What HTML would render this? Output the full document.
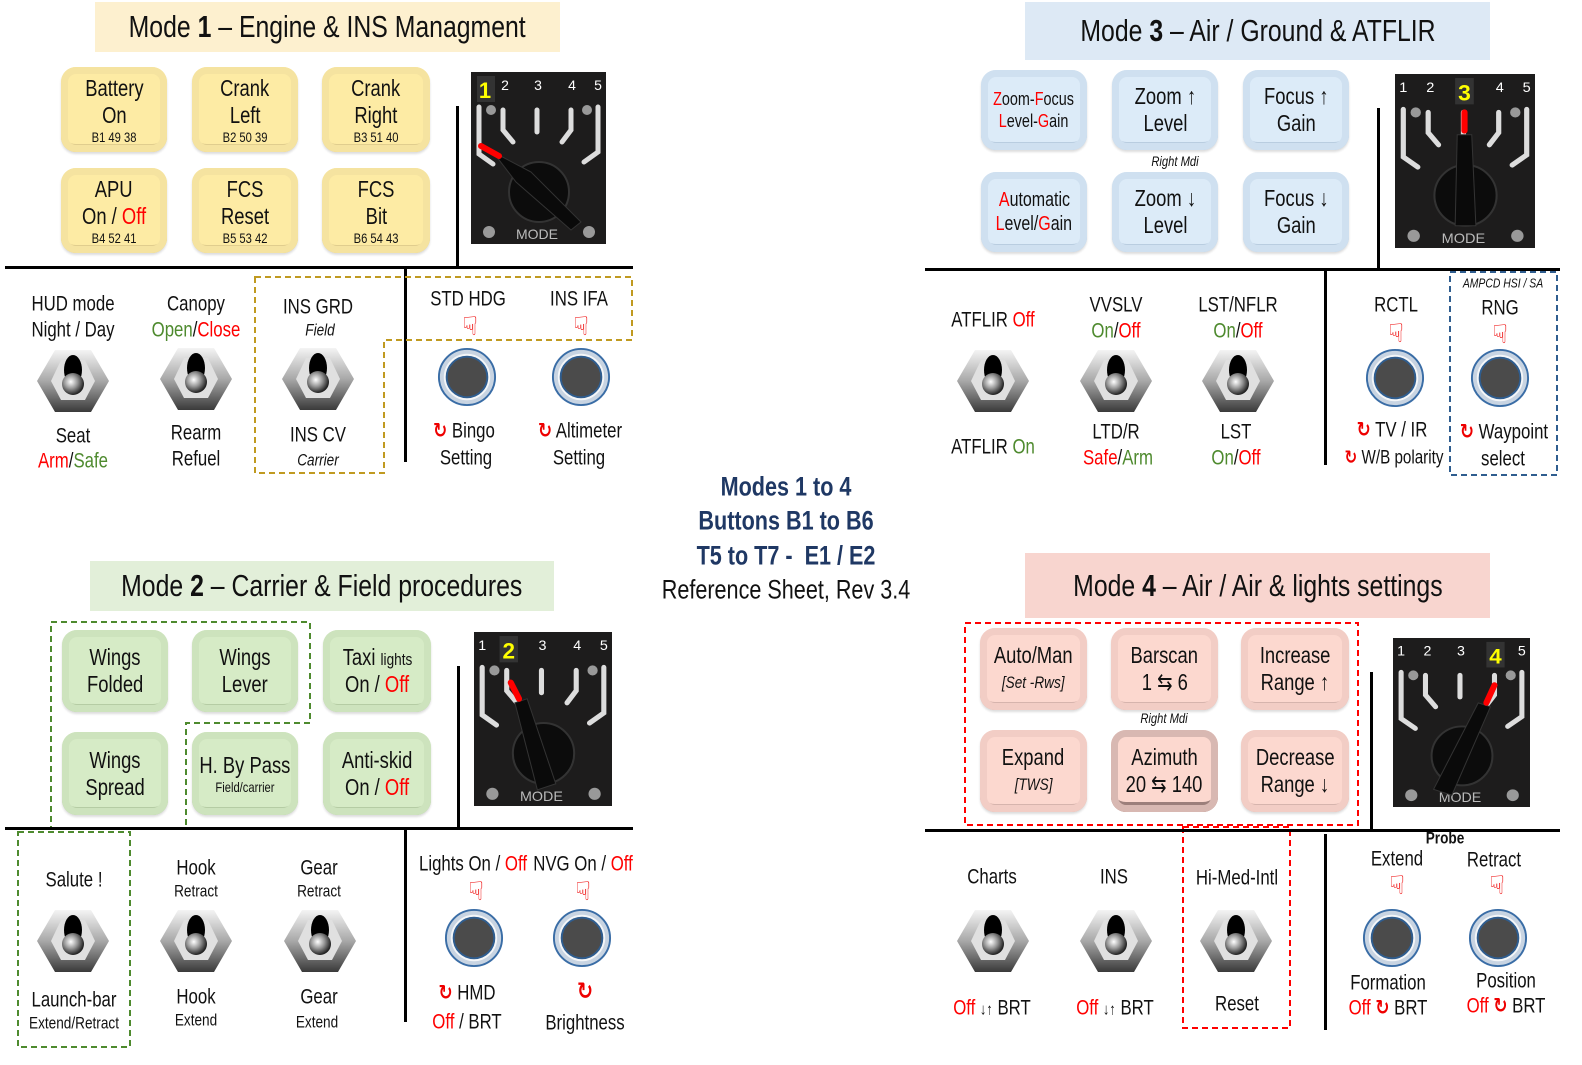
<!DOCTYPE html>
<html><head><meta charset="utf-8">
<style>
html,body{margin:0;padding:0;background:#fff;}
body{width:1582px;height:1065px;position:relative;overflow:hidden;font-family:"Liberation Sans Narrow","Liberation Sans",sans-serif;color:#111;}
.t{position:absolute;transform:translate(-50%,-50%) scaleX(.8);white-space:nowrap;text-align:center;font-size:21px;line-height:1;}
.r{color:#f00}.g{color:#4e8a2e}
.i{font-style:italic;}
.hand{font-family:"DejaVu Sans",sans-serif;color:#e00;font-size:26px;transform:translate(-50%,-50%);}
.rot{font-family:"DejaVu Sans",sans-serif;color:#e00;font-weight:bold;}
.title{position:absolute;font-size:31px;display:flex;align-items:center;justify-content:center;white-space:nowrap;}
.title span{display:inline-block;transform:scaleX(.8);}
.key{position:absolute;border-radius:15px;display:flex;flex-direction:column;align-items:center;justify-content:center;font-size:23px;line-height:27px;text-align:center;white-space:nowrap;}
.key>*{display:block;transform:scaleX(.8);}
.y{background:#fdeba4;box-shadow:inset 0 0 0 7px #f5e3a0,inset 0 -8px 0 #e0cd8e,0 2px 2px #ddd;}
.b{background:#dcebf8;box-shadow:inset 0 0 0 7px #cfe0f0,inset 0 -8px 0 #b9cde0,0 2px 2px #ddd;}
.gr{background:#d6ebc6;box-shadow:inset 0 0 0 7px #cde3bd,inset 0 -8px 0 #b5cca4,0 2px 2px #ddd;}
.p{background:#fcd8cf;box-shadow:inset 0 0 0 7px #f2cdc5,inset 0 -8px 0 #d6b4ad,0 2px 2px #ddd;}
.key small{font-size:14px;line-height:16px;}
.ln{position:absolute;background:#000;}
svg{position:absolute;overflow:visible;}
.nv{color:#1f3864;font-weight:bold;}
</style></head><body>
<svg width="0" height="0" style="position:absolute">
<defs>
<linearGradient id="hx" x1="0" y1="0" x2="0" y2="1"><stop offset="0" stop-color="#f4f4f4"/><stop offset="0.5" stop-color="#a8a8a8"/><stop offset="1" stop-color="#3a3a3a"/></linearGradient>
<radialGradient id="sp" cx="0.4" cy="0.4" r="0.6"><stop offset="0" stop-color="#fff"/><stop offset="0.5" stop-color="#999"/><stop offset="1" stop-color="#222"/></radialGradient>
<symbol id="tg" viewBox="0 0 72 66">
<polygon points="18,2 54,2 72,33 54,64 18,64 0,33" fill="url(#hx)"/>
<polygon points="24,12 48,12 58,33 48,52 24,52 14,33" fill="#e0e0e0"/>
<ellipse cx="36" cy="22" rx="9" ry="15" fill="#000"/>
<circle cx="36" cy="36" r="11" fill="url(#sp)"/>
</symbol>
<symbol id="pb" viewBox="0 0 62 62">
<circle cx="31" cy="31" r="29" fill="#c8d4e2" stroke="#3a6da6" stroke-width="2"/>
<circle cx="31" cy="31" r="24" fill="#f4f6f8"/>
<circle cx="31" cy="31" r="21" fill="#4b4b4b" stroke="#2f5d8f" stroke-width="2"/>
</symbol>
<symbol id="rb" viewBox="0 0 135 172">
<rect width="135" height="172" fill="#1d1c1c"/>
<g stroke="#ddd" stroke-width="5" fill="none" stroke-linecap="round">
<polyline points="8,35 8,82 22,92"/>
<polyline points="32,38 32,58 42,70"/>
<line x1="66" y1="38" x2="66" y2="60"/>
<polyline points="100,38 100,58 91,70"/>
<polyline points="127,35 127,80 113,90"/>
</g>
<circle cx="20" cy="38" r="5" fill="#999"/><circle cx="116" cy="38" r="5" fill="#999"/>
<circle cx="18" cy="160" r="6" fill="#999"/><circle cx="118" cy="160" r="6" fill="#999"/>
<circle cx="68" cy="120" r="30" fill="#0c0c0c" stroke="#333" stroke-width="2"/>
<text x="66" y="167" fill="#bbb" font-size="14" text-anchor="middle" font-family="Liberation Sans,sans-serif">MODE</text>
</symbol>
</defs></svg>

<!-- ================= MODE 1 ================= -->
<div class="title" style="left:95px;top:2px;width:465px;height:50px;background:#fdf0cf;"><span>Mode <b>1</b> – Engine &amp; INS Managment</span></div>
<div class="key y" style="left:61px;top:67px;width:106px;height:85px;"><span>Battery</span><span>On</span><small>B1 49 38</small></div>
<div class="key y" style="left:192px;top:67px;width:106px;height:85px;"><span>Crank</span><span>Left</span><small>B2 50 39</small></div>
<div class="key y" style="left:322px;top:67px;width:108px;height:85px;"><span>Crank</span><span>Right</span><small>B3 51 40</small></div>
<div class="key y" style="left:61px;top:168px;width:106px;height:85px;"><span>APU</span><span>On / <span class="r">Off</span></span><small>B4 52 41</small></div>
<div class="key y" style="left:192px;top:168px;width:106px;height:85px;"><span>FCS</span><span>Reset</span><small>B5 53 42</small></div>
<div class="key y" style="left:322px;top:168px;width:108px;height:85px;"><span>FCS</span><span>Bit</span><small>B6 54 43</small></div>
<svg style="left:471px;top:72px" width="135" height="172"><use href="#rb"/>
<rect x="6" y="4" width="18" height="26" fill="#333"/>
<text x="14" y="26" fill="#ff0" font-size="22" font-weight="bold" text-anchor="middle" font-family="Liberation Sans,sans-serif">1</text>
<g fill="#fff" font-size="14" text-anchor="middle" font-family="Liberation Sans,sans-serif"><text x="34" y="18">2</text><text x="67" y="18">3</text><text x="101" y="18">4</text><text x="127" y="18">5</text></g>
<polygon points="22,80 60,100 110,150 100,158 45,110" fill="#0a0a0a" stroke="#333"/>
<line x1="10" y1="74" x2="28" y2="84" stroke="#f00" stroke-width="6" stroke-linecap="round"/></svg>
<div class="ln" style="left:456px;top:106px;width:3px;height:162px"></div>
<div class="ln" style="left:5px;top:266px;width:628px;height:3px"></div>
<div class="ln" style="left:404px;top:268px;width:3px;height:194px"></div>
<svg style="left:0;top:0" width="1582" height="1065">
<polygon points="255,277 632,277 632,340 384,340 384,473 255,473" fill="none" stroke="#c09a20" stroke-width="2" stroke-dasharray="6,4"/>
<polygon points="51,622 310,622 310,723 186,723 186,828 51,828" fill="none" stroke="#4e8a2e" stroke-width="2" stroke-dasharray="6,4"/>
<rect x="18" y="832" width="112" height="215" fill="none" stroke="#4e8a2e" stroke-width="2" stroke-dasharray="6,4"/>
<rect x="1450" y="272" width="107" height="203" fill="none" stroke="#2f5d8f" stroke-width="2" stroke-dasharray="6,4"/>
<rect x="965" y="623" width="393" height="202" fill="none" stroke="#f00" stroke-width="2" stroke-dasharray="6,4"/>
<rect x="1183" y="827" width="107" height="201" fill="none" stroke="#f00" stroke-width="2" stroke-dasharray="6,4"/>
</svg>
<div class="t" style="left:73px;top:304px">HUD mode</div>
<div class="t" style="left:73px;top:330px">Night / Day</div>
<svg style="left:37px;top:348px" width="72" height="66"><use href="#tg"/></svg>
<div class="t" style="left:73px;top:436px">Seat</div>
<div class="t" style="left:73px;top:461px"><span class="r">Arm</span>/<span class="g">Safe</span></div>
<div class="t" style="left:196px;top:304px">Canopy</div>
<div class="t" style="left:196px;top:330px"><span class="g">Open</span>/<span class="r">Close</span></div>
<svg style="left:160px;top:346px" width="72" height="66"><use href="#tg"/></svg>
<div class="t" style="left:196px;top:433px">Rearm</div>
<div class="t" style="left:196px;top:459px">Refuel</div>
<div class="t" style="left:318px;top:307px">INS GRD</div>
<div class="t i" style="left:320px;top:330px;font-size:17px">Field</div>
<svg style="left:282px;top:346px" width="72" height="66"><use href="#tg"/></svg>
<div class="t" style="left:318px;top:435px">INS CV</div>
<div class="t i" style="left:318px;top:460px;font-size:17px">Carrier</div>
<div class="t" style="left:468px;top:299px">STD HDG</div>
<div class="t hand" style="left:470px;top:327px">☟</div>
<svg style="left:437px;top:347px" width="60" height="60"><use href="#pb"/></svg>
<div class="t" style="left:464px;top:431px"><span class="rot">↻</span> Bingo</div>
<div class="t" style="left:466px;top:458px">Setting</div>
<div class="t" style="left:579px;top:299px">INS IFA</div>
<div class="t hand" style="left:581px;top:327px">☟</div>
<svg style="left:551px;top:347px" width="60" height="60"><use href="#pb"/></svg>
<div class="t" style="left:580px;top:431px"><span class="rot">↻</span> Altimeter</div>
<div class="t" style="left:579px;top:458px">Setting</div>

<!-- ================= MODE 3 ================= -->
<div class="title" style="left:1025px;top:2px;width:465px;height:58px;background:#dde9f5;"><span>Mode <b>3</b> – Air / Ground &amp; ATFLIR</span></div>
<div class="key b" style="left:981px;top:70px;width:106px;height:80px;font-size:18px;line-height:22px"><span><span class="r">Z</span>oom-<span class="r">F</span>ocus</span><span><span class="r">L</span>evel-<span class="r">G</span>ain</span></div>
<div class="key b" style="left:1112px;top:70px;width:106px;height:80px;"><span>Zoom ↑</span><span>Level</span></div>
<div class="key b" style="left:1243px;top:70px;width:106px;height:80px;"><span>Focus ↑</span><span>Gain</span></div>
<div class="key b" style="left:981px;top:172px;width:106px;height:80px;font-size:20px;line-height:24px"><span><span class="r">A</span>utomatic</span><span><span class="r">L</span>evel/<span class="r">G</span>ain</span></div>
<div class="key b" style="left:1112px;top:172px;width:106px;height:80px;"><span>Zoom ↓</span><span>Level</span></div>
<div class="key b" style="left:1243px;top:172px;width:106px;height:80px;"><span>Focus ↓</span><span>Gain</span></div>
<div class="t i" style="left:1175px;top:161px;font-size:14px">Right Mdi</div>
<svg style="left:1395px;top:74px" width="140" height="174" viewBox="0 0 135 172" preserveAspectRatio="none"><use href="#rb"/>
<rect x="58" y="4" width="18" height="26" fill="#333"/>
<g fill="#fff" font-size="14" text-anchor="middle" font-family="Liberation Sans,sans-serif"><text x="8" y="18">1</text><text x="34" y="18">2</text><text x="101" y="18">4</text><text x="127" y="18">5</text></g>
<text x="67" y="26" fill="#ff0" font-size="22" font-weight="bold" text-anchor="middle" font-family="Liberation Sans,sans-serif">3</text>
<polygon points="60,60 74,60 78,150 58,150" fill="#0a0a0a" stroke="#333"/>
<line x1="67" y1="38" x2="67" y2="56" stroke="#f00" stroke-width="6" stroke-linecap="round"/></svg>
<div class="ln" style="left:1377px;top:108px;width:3px;height:161px"></div>
<div class="ln" style="left:925px;top:268px;width:635px;height:3px"></div>
<div class="ln" style="left:1324px;top:270px;width:3px;height:195px"></div>
<div class="t" style="left:993px;top:320px">ATFLIR <span class="r">Off</span></div>
<svg style="left:957px;top:348px" width="72" height="66"><use href="#tg"/></svg>
<div class="t" style="left:993px;top:447px">ATFLIR <span class="g">On</span></div>
<div class="t" style="left:1116px;top:305px">VVSLV</div>
<div class="t" style="left:1116px;top:331px"><span class="g">On</span>/<span class="r">Off</span></div>
<svg style="left:1080px;top:348px" width="72" height="66"><use href="#tg"/></svg>
<div class="t" style="left:1116px;top:432px">LTD/R</div>
<div class="t" style="left:1118px;top:458px"><span class="r">Safe</span>/<span class="g">Arm</span></div>
<div class="t" style="left:1238px;top:305px">LST/NFLR</div>
<div class="t" style="left:1238px;top:331px"><span class="g">On</span>/<span class="r">Off</span></div>
<svg style="left:1202px;top:348px" width="72" height="66"><use href="#tg"/></svg>
<div class="t" style="left:1236px;top:432px">LST</div>
<div class="t" style="left:1236px;top:458px"><span class="g">On</span>/<span class="r">Off</span></div>
<div class="t" style="left:1396px;top:305px">RCTL</div>
<div class="t hand" style="left:1396px;top:334px">☟</div>
<svg style="left:1365px;top:348px" width="60" height="60"><use href="#pb"/></svg>
<div class="t" style="left:1392px;top:430px"><span class="rot">↻</span> TV / IR</div>
<div class="t" style="left:1394px;top:458px;font-size:19px"><span class="rot">↻</span> W/B polarity</div>
<div class="t i" style="left:1503px;top:283px;font-size:13px">AMPCD HSI / SA</div>
<div class="t" style="left:1500px;top:308px">RNG</div>
<div class="t hand" style="left:1500px;top:335px">☟</div>
<svg style="left:1470px;top:348px" width="60" height="60"><use href="#pb"/></svg>
<div class="t" style="left:1504px;top:432px"><span class="rot">↻</span> Waypoint</div>
<div class="t" style="left:1503px;top:459px">select</div>

<!-- ================= CENTER ================= -->
<div class="t nv" style="left:786px;top:487px;font-size:27px">Modes 1 to 4</div>
<div class="t nv" style="left:786px;top:521px;font-size:27px">Buttons B1 to B6</div>
<div class="t nv" style="left:786px;top:556px;font-size:27px">T5 to T7 -&nbsp; E1 / E2</div>
<div class="t" style="left:786px;top:590px;font-size:27px">Reference Sheet, Rev 3.4</div>

<!-- ================= MODE 2 ================= -->
<div class="title" style="left:90px;top:561px;width:464px;height:50px;background:#e2efd9;"><span>Mode <b>2</b> – Carrier &amp; Field procedures</span></div>
<div class="key gr" style="left:62px;top:630px;width:106px;height:82px;"><span>Wings</span><span>Folded</span></div>
<div class="key gr" style="left:192px;top:630px;width:106px;height:82px;"><span>Wings</span><span>Lever</span></div>
<div class="key gr" style="left:323px;top:630px;width:108px;height:82px;"><span>Taxi <small style="font-size:17px">lights</small></span><span>On / <span class="r">Off</span></span></div>
<div class="key gr" style="left:62px;top:732px;width:106px;height:83px;"><span>Wings</span><span>Spread</span></div>
<div class="key gr" style="left:192px;top:732px;width:106px;height:83px;"><span>H. By Pass</span><small>Field/carrier</small></div>
<div class="key gr" style="left:323px;top:732px;width:108px;height:83px;"><span>Anti-skid</span><span>On / <span class="r">Off</span></span></div>
<svg style="left:474px;top:632px" width="138" height="174" viewBox="0 0 135 172" preserveAspectRatio="none"><use href="#rb"/>
<rect x="25" y="4" width="18" height="26" fill="#333"/>
<g fill="#fff" font-size="14" text-anchor="middle" font-family="Liberation Sans,sans-serif"><text x="8" y="18">1</text><text x="67" y="18">3</text><text x="101" y="18">4</text><text x="127" y="18">5</text></g>
<text x="34" y="26" fill="#ff0" font-size="22" font-weight="bold" text-anchor="middle" font-family="Liberation Sans,sans-serif">2</text>
<polygon points="40,70 52,66 80,150 62,156" fill="#0a0a0a" stroke="#333"/>
<line x1="36" y1="50" x2="44" y2="66" stroke="#f00" stroke-width="6" stroke-linecap="round"/></svg>
<div class="ln" style="left:457px;top:666px;width:3px;height:162px"></div>
<div class="ln" style="left:5px;top:827px;width:628px;height:3px"></div>
<div class="ln" style="left:404px;top:830px;width:3px;height:192px"></div>
<div class="t" style="left:74px;top:880px">Salute !</div>
<svg style="left:37px;top:908px" width="72" height="66"><use href="#tg"/></svg>
<div class="t" style="left:74px;top:1000px">Launch-bar</div>
<div class="t" style="left:74px;top:1023px;font-size:17px">Extend/Retract</div>
<div class="t" style="left:196px;top:868px">Hook</div>
<div class="t" style="left:196px;top:891px;font-size:17px">Retract</div>
<svg style="left:160px;top:908px" width="72" height="66"><use href="#tg"/></svg>
<div class="t" style="left:196px;top:997px">Hook</div>
<div class="t" style="left:196px;top:1020px;font-size:17px">Extend</div>
<div class="t" style="left:319px;top:868px">Gear</div>
<div class="t" style="left:319px;top:891px;font-size:17px">Retract</div>
<svg style="left:284px;top:908px" width="72" height="66"><use href="#tg"/></svg>
<div class="t" style="left:319px;top:997px">Gear</div>
<div class="t" style="left:317px;top:1022px;font-size:17px">Extend</div>
<div class="t" style="left:473px;top:864px">Lights On / <span class="r">Off</span></div>
<div class="t hand" style="left:476px;top:892px">☟</div>
<svg style="left:444px;top:908px" width="60" height="60"><use href="#pb"/></svg>
<div class="t" style="left:467px;top:993px"><span class="rot">↻</span> HMD</div>
<div class="t" style="left:467px;top:1022px"><span class="r">Off</span> / BRT</div>
<div class="t" style="left:583px;top:864px">NVG On / <span class="r">Off</span></div>
<div class="t hand" style="left:583px;top:892px">☟</div>
<svg style="left:552px;top:908px" width="60" height="60"><use href="#pb"/></svg>
<div class="t rot" style="left:585px;top:991px;font-size:24px">↻</div>
<div class="t" style="left:585px;top:1023px">Brightness</div>

<!-- ================= MODE 4 ================= -->
<div class="title" style="left:1025px;top:553px;width:465px;height:65px;background:#f8d5cf;"><span>Mode <b>4</b> – Air / Air &amp; lights settings</span></div>
<div class="key p" style="left:980px;top:628px;width:107px;height:82px;"><span>Auto/Man</span><span class="i" style="font-size:17px">[Set -Rws]</span></div>
<div class="key p" style="left:1111px;top:628px;width:107px;height:82px;"><span>Barscan</span><span>1 ⇆ 6</span></div>
<div class="key p" style="left:1241px;top:628px;width:108px;height:82px;"><span>Increase</span><span>Range ↑</span></div>
<div class="key p" style="left:980px;top:730px;width:107px;height:82px;"><span>Expand</span><span class="i" style="font-size:17px">[TWS]</span></div>
<div class="key p" style="left:1111px;top:730px;width:107px;height:82px;box-shadow:inset 0 0 0 7px #d8b8b2,inset 0 -10px 0 #9c7f7b;"><span>Azimuth</span><span>20 ⇆ 140</span></div>
<div class="key p" style="left:1241px;top:730px;width:108px;height:82px;"><span>Decrease</span><span>Range ↓</span></div>
<div class="t i" style="left:1164px;top:718px;font-size:14px">Right Mdi</div>
<svg style="left:1393px;top:638px" width="137" height="169" viewBox="0 0 135 172" preserveAspectRatio="none"><use href="#rb"/>
<rect x="92" y="4" width="18" height="26" fill="#333"/>
<g fill="#fff" font-size="14" text-anchor="middle" font-family="Liberation Sans,sans-serif"><text x="8" y="18">1</text><text x="34" y="18">2</text><text x="67" y="18">3</text><text x="127" y="18">5</text></g>
<text x="101" y="26" fill="#ff0" font-size="22" font-weight="bold" text-anchor="middle" font-family="Liberation Sans,sans-serif">4</text>
<polygon points="84,66 96,70 58,160 40,154" fill="#0a0a0a" stroke="#333"/>
<line x1="100" y1="48" x2="92" y2="66" stroke="#f00" stroke-width="6" stroke-linecap="round"/></svg>
<div class="ln" style="left:1370px;top:672px;width:3px;height:160px"></div>
<div class="ln" style="left:925px;top:829px;width:635px;height:3px"></div>
<div class="ln" style="left:1324px;top:834px;width:3px;height:196px"></div>
<div class="t" style="left:992px;top:877px">Charts</div>
<svg style="left:957px;top:908px" width="72" height="66"><use href="#tg"/></svg>
<div class="t" style="left:992px;top:1008px"><span class="r">Off</span> <span style="font-size:16px">↓↑</span> BRT</div>
<div class="t" style="left:1114px;top:877px">INS</div>
<svg style="left:1080px;top:908px" width="72" height="66"><use href="#tg"/></svg>
<div class="t" style="left:1115px;top:1008px"><span class="r">Off</span> <span style="font-size:16px">↓↑</span> BRT</div>
<div class="t" style="left:1237px;top:878px">Hi-Med-Intl</div>
<svg style="left:1200px;top:908px" width="72" height="66"><use href="#tg"/></svg>
<div class="t" style="left:1237px;top:1004px">Reset</div>
<div class="t" style="left:1445px;top:838px;font-size:17px;font-weight:bold">Probe</div>
<div class="t" style="left:1397px;top:859px">Extend</div>
<div class="t hand" style="left:1397px;top:886px">☟</div>
<svg style="left:1362px;top:908px" width="60" height="60"><use href="#pb"/></svg>
<div class="t" style="left:1388px;top:983px">Formation</div>
<div class="t" style="left:1388px;top:1008px"><span class="r">Off <span class="rot">↻</span></span> BRT</div>
<div class="t" style="left:1494px;top:860px">Retract</div>
<div class="t hand" style="left:1497px;top:886px">☟</div>
<svg style="left:1468px;top:908px" width="60" height="60"><use href="#pb"/></svg>
<div class="t" style="left:1506px;top:981px">Position</div>
<div class="t" style="left:1506px;top:1006px"><span class="r">Off <span class="rot">↻</span></span> BRT</div>
</body></html>
